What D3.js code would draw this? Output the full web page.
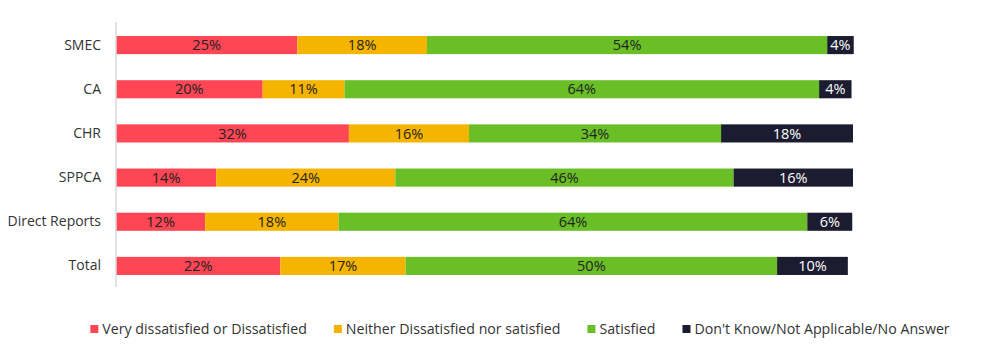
<!DOCTYPE html>
<html><head><meta charset="utf-8">
<script src="https://cdn.jsdelivr.net/npm/d3@7"></script>
<style>body{margin:0;background:#fff}svg{display:block}</style>
</head><body>
<svg id="c" width="1000" height="356"></svg>
<script>
const categories = ["SMEC", "CA", "CHR", "SPPCA", "Direct Reports", "Total"];
const seriesNames = ["Very dissatisfied or Dissatisfied", "Neither Dissatisfied nor satisfied", "Satisfied", "Don't Know/Not Applicable/No Answer"];
const veryDissatisfied = [24.6, 19.9, 31.6, 13.6, 12.1, 22.3];
const neither = [17.6, 11.1, 16.3, 24.3, 18.1, 17.0];
const satisfied = [54.3, 64.4, 34.2, 45.9, 63.6, 50.4];
const dontKnow = [3.6, 4.4, 17.9, 16.2, 6.1, 9.6];
const colors = ["#FF4655", "#F5B400", "#6ABF26", "#1B1C2F"];
const labelColors = ["#222", "#222", "#222", "#fff"];

const series = [veryDissatisfied, neither, satisfied, dontKnow];
const svg = d3.select("#c");
const font = "'Open Sans', sans-serif";

const x = d3.scaleLinear().domain([0, 100]).range([116, 853]);
const y = d3.scaleBand().domain(categories).range([23, 288]).paddingInner(0.59).paddingOuter(0.295);

const rows = categories.map((c, i) => {
  let acc = 0;
  return series.map((s, k) => { const v = s[i]; const seg = {cat: c, k, x0: acc, x1: acc + v, v}; acc += v; return seg; });
});

const g = svg.append("g");
rows.forEach(segs => {
  g.selectAll(null).data(segs).enter().append("rect")
    .attr("x", d => x(d.x0)).attr("y", d => y(d.cat))
    .attr("width", d => x(d.x1) - x(d.x0)).attr("height", y.bandwidth())
    .attr("fill", d => colors[d.k]);
  g.selectAll(null).data(segs).enter().append("text")
    .attr("x", d => (x(d.x0) + x(d.x1)) / 2).attr("y", d => y(d.cat) + y.bandwidth() / 2)
    .attr("dy", "0.36em").attr("text-anchor", "middle")
    .attr("font-family", font).attr("font-size", 14.5)
    .attr("fill", d => labelColors[d.k])
    .text(d => Math.round(d.v) + "%");
});

// axis
const yAxis = d3.axisLeft(y).tickSize(0).tickPadding(15);
const ax = svg.append("g").attr("transform", "translate(116,0)").call(yAxis);
ax.select(".domain").attr("stroke", "#d9d9d9").attr("stroke-width", 1.5).attr("d", "M0,22V287");
ax.selectAll("text").attr("font-family", font).attr("font-size", 14).attr("fill", "#333");

// legend
const leg = svg.append("g");
const items = leg.selectAll("g").data(seriesNames).enter().append("g");
items.append("rect").attr("width", 8).attr("height", 8).attr("y", -4).attr("fill", (d, i) => colors[i]);
items.append("text").attr("x", 12).attr("dy", "0.36em").attr("font-family", font).attr("font-size", 14.2).attr("fill", "#333").text(d => d);
let cx = 0;
const widths = [];
items.each(function() { widths.push(this.querySelector("text").getComputedTextLength() + 12); });
const gap = 27;
const total = d3.sum(widths) + gap * (widths.length - 1);
cx = 520 - total / 2;
items.each(function(d, i) { d3.select(this).attr("transform", `translate(${cx},329)`); cx += widths[i] + gap; });
</script>
</body></html>
